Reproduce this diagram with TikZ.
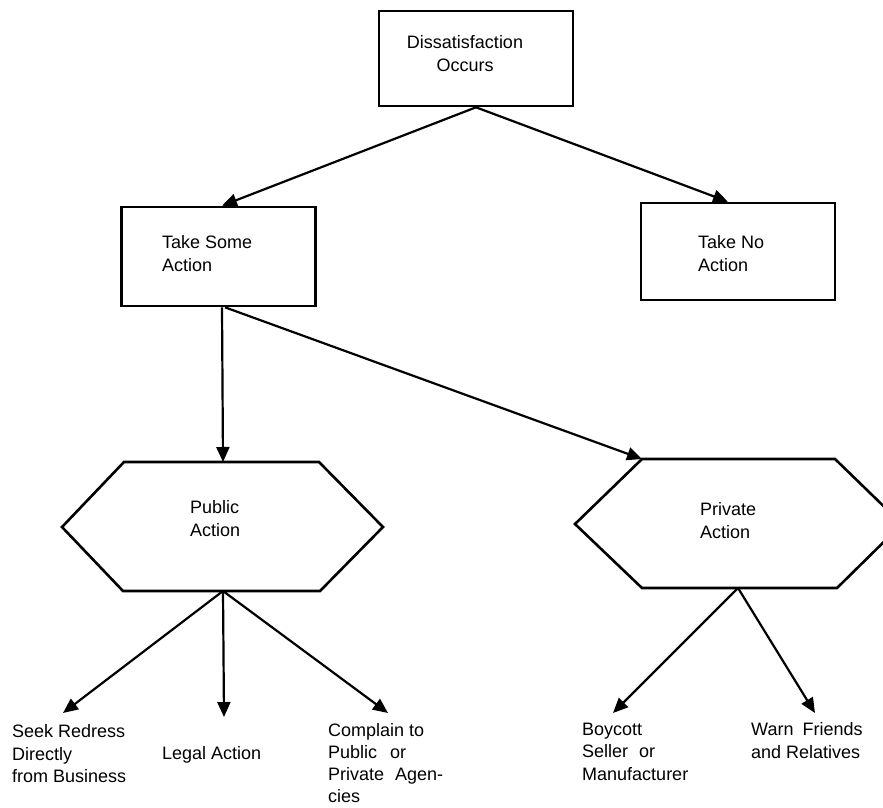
\documentclass[tikz,border=0pt]{standalone}
\usepackage{fontspec}
\setmainfont{Liberation Sans}
\usetikzlibrary{arrows.meta,calc}
\tikzset{
  boxst/.style={draw, line width=2.6pt, minimum width=194pt, minimum height=96pt, inner sep=0pt},
  lbl/.style={font=\fontsize{18}{22.5}\selectfont, inner sep=0pt, align=left, anchor=north west},
  arr/.style={line width=2.2pt, -{Triangle[length=15pt,width=13pt]}},
  hexst/.style={line width=2.6pt, line join=miter},
}
\begin{document}
\begin{tikzpicture}[x=1pt,y=-1pt]
\clip (0,0) rectangle (883,807);
\fill[white] (0,0) rectangle (883,807);
% boxes
\node[boxst, minimum height=95pt] (dis) at (476,58.5) {};
\node[boxst, minimum height=99pt] (tsa) at (218.5,256.5) {};
\node[boxst, minimum height=97pt] (tna) at (738,251.5) {};
\node[lbl, align=center, anchor=north] (distxt) at (465,35.5) {Dissatisfaction\\Occurs};
\node[lbl] (tsatxt) at (162,235.5) {Take Some\\Action};
\node[lbl] (tnatxt) at (698,235.5) {Take No\\Action};
% hexagons
\draw[hexst] (62,527) -- (124,462) -- (319,462) -- (383,527) -- (320,591) -- (123,591) -- cycle;
\node[lbl] (pub) at (190,500.5) {Public\\Action};
\draw[hexst] (575,524) -- (642,459) -- (835,459) -- (902,524) -- (837,588) -- (642,588) -- cycle;
\node[lbl] (priv) at (700,502.5) {Private\\Action};
\coordinate (pubtop) at (223,462);
\coordinate (pubbot) at (223,591);
\coordinate (privtl) at (642,459);
\coordinate (privbot) at (738,588);
% leaves
\node[lbl] (seek) at (12,724.5) {Seek Redress\\Directly\\from Business};
\node[lbl] (legal) at (162,746) {Legal Action};
\node[lbl, font=\fontsize{18}{21.8}\selectfont] (comp) at (328,723.5) {Complain to\\Public\hspace{8pt} or\\Private\hspace{6pt} Agen-\\cies};
\node[lbl] (boy) at (582,722.5) {Boycott\\Seller\hspace{6pt} or\\Manufacturer};
\node[lbl] (warn) at (751,722.5) {Warn\hspace{4pt} Friends\\and Relatives};
\coordinate (seektip) at (63,713);
\coordinate (legaltip) at (224,717);
\coordinate (comptip) at (388,713);
\coordinate (boytip) at (613,713);
\coordinate (warntip) at (815,713);
% connectors
\draw[arr] (dis.south) -- ([xshift=3.5pt]tsa.north);
\draw[arr] (dis.south) -- ([xshift=-10pt]tna.north);
\draw[arr] ([xshift=3.5pt]tsa.south) -- (pubtop);
\draw[arr] ([xshift=6.5pt]tsa.south) -- (privtl);
\draw[arr] (pubbot) -- (seektip);
\draw[arr] (pubbot) -- (legaltip);
\draw[arr] (pubbot) -- (comptip);
\draw[arr] (privbot) -- (boytip);
\draw[arr] (privbot) -- (warntip);
\end{tikzpicture}
\end{document}
